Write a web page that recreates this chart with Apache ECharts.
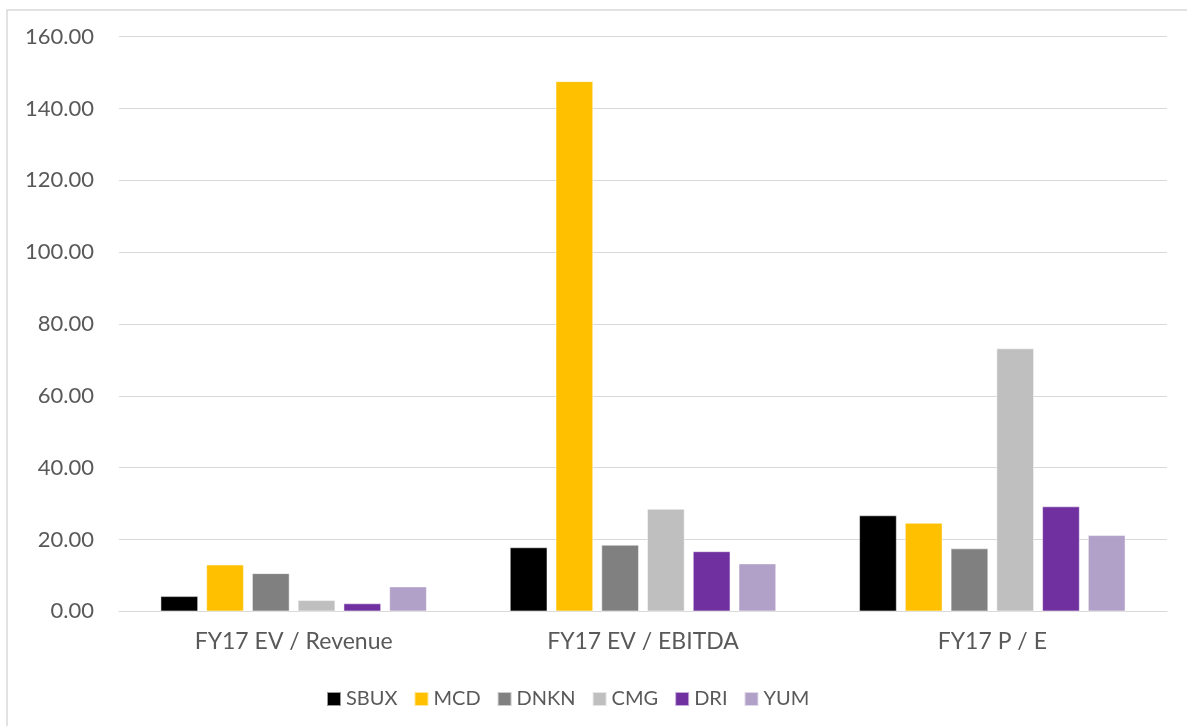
<!DOCTYPE html>
<html>
<head>
<meta charset="utf-8">
<script src="https://cdn.jsdelivr.net/npm/echarts@6/dist/echarts.min.js"></script>
<style>
html,body{margin:0;padding:0;background:#fff;}
#chart{width:1187px;height:726px;}
</style>
</head>
<body>
<div id="chart"></div>
<script>
const categories = ['FY17 EV / Revenue', 'FY17 EV / EBITDA', 'FY17 P / E'];
const seriesNames = ['SBUX', 'MCD', 'DNKN', 'CMG', 'DRI', 'YUM'];
const SBUX = [4.2, 17.8, 26.7];
const MCD = [13.0, 147.6, 24.6];
const DNKN = [10.6, 18.5, 17.5];
const CMG = [3.1, 28.5, 73.2];
const DRI = [2.2, 16.7, 29.2];
const YUM = [6.9, 13.3, 21.2];
const yTicks = [0, 20, 40, 60, 80, 100, 120, 140, 160];

const values = [SBUX, MCD, DNKN, CMG, DRI, YUM];
const colors = ['#000000', '#FFC000', '#808080', '#BFBFBF', '#7030A0', '#B1A0C7'];
const font = 'Lato, "Open Sans", sans-serif';

const chart = echarts.init(document.getElementById('chart'));
chart.setOption({
  animation: false,
  backgroundColor: '#ffffff',
  graphic: [{
    type: 'rect',
    shape: { x: 7, y: 10, width: 1300, height: 900 },
    style: { fill: 'none', stroke: '#D9D9D9', lineWidth: 1.5 },
    silent: true
  }],
  grid: { left: 119, right: 20, top: 36.7, bottom: 114.7 },
  legend: {
    data: seriesNames,
    left: 321,
    top: 684,
    itemWidth: 14,
    itemHeight: 14,
    itemGap: 16,
    icon: 'rect',
    textStyle: { fontFamily: font, fontSize: 20, color: '#595959' }
  },
  xAxis: {
    type: 'category',
    data: categories,
    axisLine: { lineStyle: { color: '#D9D9D9', width: 1 } },
    axisTick: { show: false },
    axisLabel: { fontFamily: font, fontSize: 23, color: '#595959', margin: 19 }
  },
  yAxis: {
    type: 'value',
    min: yTicks[0],
    max: yTicks[yTicks.length - 1],
    interval: 20,
    axisLine: { show: false },
    axisTick: { show: false },
    splitLine: { lineStyle: { color: '#D9D9D9', width: 1 } },
    axisLabel: {
      fontFamily: font, fontSize: 22, color: '#595959', margin: 25,
      formatter: v => v.toFixed(2)
    }
  },
  series: seriesNames.map((name, i) => ({
    name: name,
    type: 'bar',
    data: values[i],
    barWidth: 37.5,
    barGap: '22%',
    itemStyle: { color: colors[i], borderColor: 'rgba(255,255,255,0.6)', borderWidth: 0.8 }
  }))
});
</script>
</body>
</html>
